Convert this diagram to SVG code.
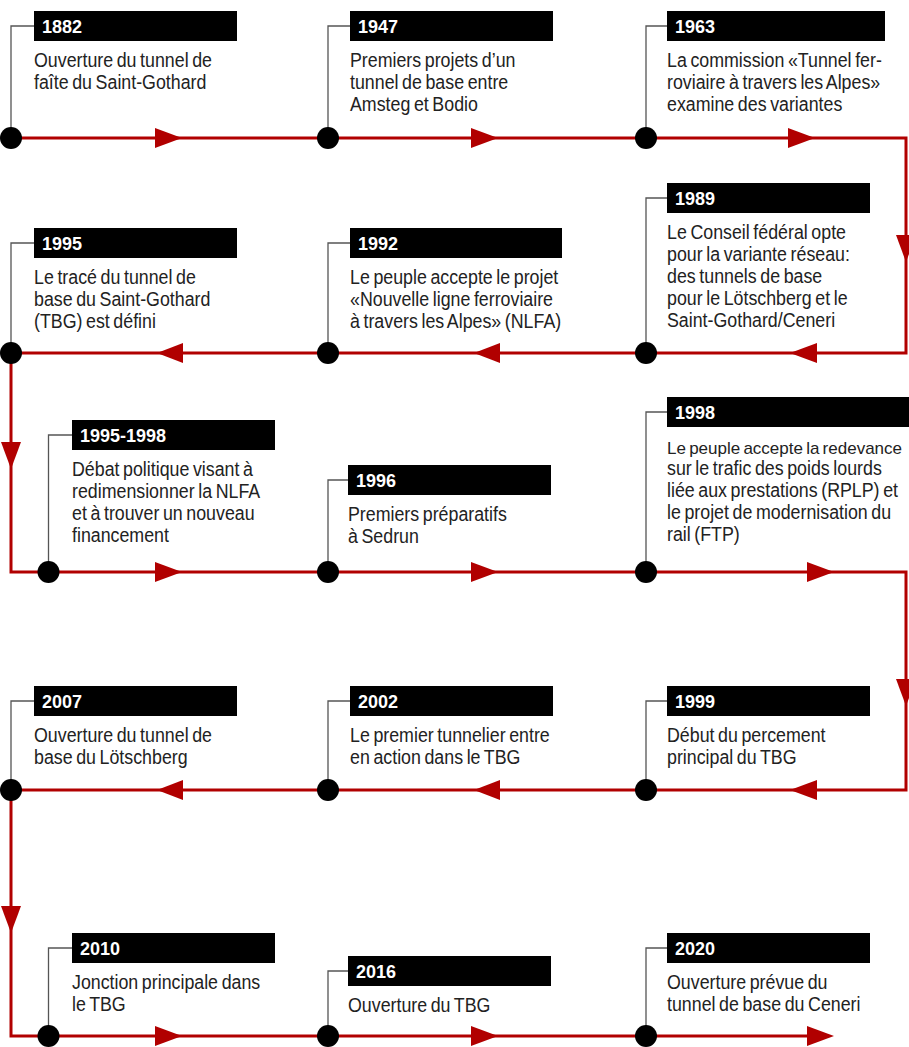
<svg xmlns="http://www.w3.org/2000/svg" width="909" height="1047" viewBox="0 0 909 1047">
<style>
.yr{font-family:"Liberation Sans",Arial,sans-serif;font-weight:bold;font-size:18px;fill:#fff}
.ds{font-family:"Liberation Sans",Arial,sans-serif;font-size:20px;fill:#222;word-spacing:-1.5px}
.box{fill:#000}
.lead{fill:none;stroke:#555;stroke-width:1.3}
.dot{fill:#000}
.rail{fill:none;stroke:#b10000;stroke-width:3}
.arr{fill:#b10000}
</style>
<rect width="909" height="1047" fill="#fff"/>
<g id="connectors">
<path class="rail" d="M11 138 H906 V353 H11 V572 H906 V790 H11 V1036 H808"/>
<polygon class="arr" points="155,128 182,138 155,148"/>
<polygon class="arr" points="471,128 498,138 471,148"/>
<polygon class="arr" points="788,128 815,138 788,148"/>
<polygon class="arr" points="896,235 916,235 906,262"/>
<polygon class="arr" points="817,343 790,353 817,363"/>
<polygon class="arr" points="500,343 474,353 500,363"/>
<polygon class="arr" points="183,343 157,353 183,363"/>
<polygon class="arr" points="1,442 21,442 11,469"/>
<polygon class="arr" points="155,562 182,572 155,582"/>
<polygon class="arr" points="471,562 498,572 471,582"/>
<polygon class="arr" points="807,562 834,572 807,582"/>
<polygon class="arr" points="896,679 916,679 906,706"/>
<polygon class="arr" points="817,780 790,790 817,800"/>
<polygon class="arr" points="500,780 474,790 500,800"/>
<polygon class="arr" points="183,780 157,790 183,800"/>
<polygon class="arr" points="1,906 21,906 11,933"/>
<polygon class="arr" points="155,1026 182,1036 155,1046"/>
<polygon class="arr" points="471,1026 498,1036 471,1046"/>
<polygon class="arr" points="807,1026 834,1036 807,1046"/>
</g>
<g id="n1882">
<path class="lead" d="M11 138 V26 H34"/>
<rect class="box" x="34" y="11" width="203" height="30"/>
<text class="yr" x="42" y="33">1882</text>
<text class="ds" transform="matrix(0.89 0 0 1 34 0)"><tspan x="0" y="67.5">Ouverture du tunnel de</tspan><tspan x="0" y="89.3">faîte du Saint-Gothard</tspan></text>
<circle class="dot" cx="11" cy="138" r="11"/>
</g>
<g id="n1947">
<path class="lead" d="M328 138 V26 H350"/>
<rect class="box" x="350" y="11" width="203" height="30"/>
<text class="yr" x="358" y="33">1947</text>
<text class="ds" transform="matrix(0.89 0 0 1 350 0)"><tspan x="0" y="67.5">Premiers projets d’un</tspan><tspan x="0" y="89.3">tunnel de base entre</tspan><tspan x="0" y="111.1">Amsteg et Bodio</tspan></text>
<circle class="dot" cx="328" cy="138" r="11"/>
</g>
<g id="n1963">
<path class="lead" d="M646 138 V26 H667"/>
<rect class="box" x="667" y="11" width="218" height="30"/>
<text class="yr" x="675" y="33">1963</text>
<text class="ds" transform="matrix(0.89 0 0 1 667 0)"><tspan x="0" y="67.5">La commission «Tunnel fer-</tspan><tspan x="0" y="89.3">roviaire à travers les Alpes»</tspan><tspan x="0" y="111.1">examine des variantes</tspan></text>
<circle class="dot" cx="646" cy="138" r="11"/>
</g>
<g id="n1989">
<path class="lead" d="M646 353 V198 H667"/>
<rect class="box" x="667" y="183" width="203" height="30"/>
<text class="yr" x="675" y="205">1989</text>
<text class="ds" transform="matrix(0.89 0 0 1 667 0)"><tspan x="0" y="239.5">Le Conseil fédéral opte</tspan><tspan x="0" y="261.3">pour la variante réseau:</tspan><tspan x="0" y="283.1">des tunnels de base</tspan><tspan x="0" y="304.9">pour le Lötschberg et le</tspan><tspan x="0" y="326.7">Saint-Gothard/Ceneri</tspan></text>
<circle class="dot" cx="646" cy="353" r="11"/>
</g>
<g id="n1995">
<path class="lead" d="M11 353 V243 H34"/>
<rect class="box" x="34" y="228" width="203" height="30"/>
<text class="yr" x="42" y="250">1995</text>
<text class="ds" transform="matrix(0.89 0 0 1 34 0)"><tspan x="0" y="284.5">Le tracé du tunnel de</tspan><tspan x="0" y="306.3">base du Saint-Gothard</tspan><tspan x="0" y="328.1">(TBG) est défini</tspan></text>
<circle class="dot" cx="11" cy="353" r="11"/>
</g>
<g id="n1992">
<path class="lead" d="M328 353 V243 H350"/>
<rect class="box" x="350" y="228" width="212" height="30"/>
<text class="yr" x="358" y="250">1992</text>
<text class="ds" transform="matrix(0.89 0 0 1 350 0)"><tspan x="0" y="284.5">Le peuple accepte le projet</tspan><tspan x="0" y="306.3">«Nouvelle ligne ferroviaire</tspan><tspan x="0" y="328.1">à travers les Alpes» (NLFA)</tspan></text>
<circle class="dot" cx="328" cy="353" r="11"/>
</g>
<g id="n1995-1998">
<path class="lead" d="M48.5 572 V435 H72"/>
<rect class="box" x="72" y="420" width="203" height="30"/>
<text class="yr" x="80" y="442">1995-1998</text>
<text class="ds" transform="matrix(0.89 0 0 1 72 0)"><tspan x="0" y="476.5">Débat politique visant à</tspan><tspan x="0" y="498.3">redimensionner la NLFA</tspan><tspan x="0" y="520.1">et à trouver un nouveau</tspan><tspan x="0" y="541.9">financement</tspan></text>
<circle class="dot" cx="48.5" cy="572" r="11"/>
</g>
<g id="n1996">
<path class="lead" d="M328 572 V480 H348"/>
<rect class="box" x="348" y="465" width="203" height="30"/>
<text class="yr" x="356" y="487">1996</text>
<text class="ds" transform="matrix(0.89 0 0 1 348 0)"><tspan x="0" y="521.5">Premiers préparatifs</tspan><tspan x="0" y="543.3">à Sedrun</tspan></text>
<circle class="dot" cx="328" cy="572" r="11"/>
</g>
<g id="n1998">
<path class="lead" d="M646 572 V412 H667"/>
<rect class="box" x="667" y="397" width="242" height="30"/>
<text class="yr" x="675" y="419">1998</text>
<text class="ds" x="667" y="453.5" style="font-size:17px">Le peuple accepte la redevance</text>
<text class="ds" transform="matrix(0.89 0 0 1 667 0)"><tspan x="0" y="475.3">sur le trafic des poids lourds</tspan><tspan x="0" y="497.1">liée aux prestations (RPLP) et</tspan><tspan x="0" y="518.9">le projet de modernisation du</tspan><tspan x="0" y="540.7">rail (FTP)</tspan></text>
<circle class="dot" cx="646" cy="572" r="11"/>
</g>
<g id="n2007">
<path class="lead" d="M11 790 V701 H34"/>
<rect class="box" x="34" y="686" width="203" height="30"/>
<text class="yr" x="42" y="708">2007</text>
<text class="ds" transform="matrix(0.89 0 0 1 34 0)"><tspan x="0" y="742.5">Ouverture du tunnel de</tspan><tspan x="0" y="764.3">base du Lötschberg</tspan></text>
<circle class="dot" cx="11" cy="790" r="11"/>
</g>
<g id="n2002">
<path class="lead" d="M328 790 V701 H350"/>
<rect class="box" x="350" y="686" width="203" height="30"/>
<text class="yr" x="358" y="708">2002</text>
<text class="ds" transform="matrix(0.89 0 0 1 350 0)"><tspan x="0" y="742.5">Le premier tunnelier entre</tspan><tspan x="0" y="764.3">en action dans le TBG</tspan></text>
<circle class="dot" cx="328" cy="790" r="11"/>
</g>
<g id="n1999">
<path class="lead" d="M646 790 V701 H667"/>
<rect class="box" x="667" y="686" width="203" height="30"/>
<text class="yr" x="675" y="708">1999</text>
<text class="ds" transform="matrix(0.89 0 0 1 667 0)"><tspan x="0" y="742.5">Début du percement</tspan><tspan x="0" y="764.3">principal du TBG</tspan></text>
<circle class="dot" cx="646" cy="790" r="11"/>
</g>
<g id="n2010">
<path class="lead" d="M48.5 1036 V948 H72"/>
<rect class="box" x="72" y="933" width="203" height="30"/>
<text class="yr" x="80" y="955">2010</text>
<text class="ds" transform="matrix(0.89 0 0 1 72 0)"><tspan x="0" y="989.5">Jonction principale dans</tspan><tspan x="0" y="1011.3">le TBG</tspan></text>
<circle class="dot" cx="48.5" cy="1036" r="11"/>
</g>
<g id="n2016">
<path class="lead" d="M328 1036 V971 H348"/>
<rect class="box" x="348" y="956" width="203" height="30"/>
<text class="yr" x="356" y="978">2016</text>
<text class="ds" transform="matrix(0.89 0 0 1 348 0)"><tspan x="0" y="1012.5">Ouverture du TBG</tspan></text>
<circle class="dot" cx="328" cy="1036" r="11"/>
</g>
<g id="n2020">
<path class="lead" d="M646 1036 V948 H667"/>
<rect class="box" x="667" y="933" width="203" height="30"/>
<text class="yr" x="675" y="955">2020</text>
<text class="ds" transform="matrix(0.89 0 0 1 667 0)"><tspan x="0" y="989.5">Ouverture prévue du</tspan><tspan x="0" y="1011.3">tunnel de base du Ceneri</tspan></text>
<circle class="dot" cx="646" cy="1036" r="11"/>
</g>
</svg>
